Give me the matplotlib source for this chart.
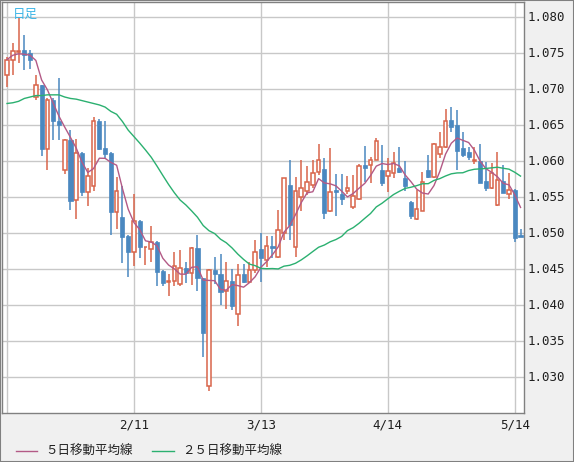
import matplotlib
matplotlib.use("Agg")
import matplotlib.pyplot as plt
import numpy as np
import pandas as pd

opens = [1.0719,1.0740,1.0752,1.0754,1.0750,1.0689,1.0705,1.0617,1.0685,1.0655,
         1.0587,1.0629,1.0546,1.0611,1.0557,1.0566,1.0656,1.0618,1.0611,1.0529,
         1.0522,1.0496,1.0473,1.0517,1.0480,1.0478,1.0488,1.0447,1.0432,1.0434,
         1.0429,1.0451,1.0445,1.0479,1.0437,1.0287,1.0449,1.0443,1.0419,1.0433,
         1.0388,1.0443,1.0432,1.0449,1.0478,1.0462,1.0482,1.0467,1.0500,1.0567,
         1.0481,1.0550,1.0559,1.0567,1.0585,1.0589,1.0530,1.0560,1.0554,1.0558,
         1.0536,1.0548,1.0595,1.0595,1.0602,1.0588,1.0579,1.0584,1.0591,1.0577,
         1.0543,1.0520,1.0531,1.0587,1.0578,1.0610,1.0620,1.0657,1.0650,1.0618,
         1.0612,1.0600,1.0600,1.0572,1.0562,1.0539,1.0573,1.0554,1.0560,1.0497]
highs = [1.0744,1.0764,1.0799,1.0775,1.0754,1.0719,1.0706,1.0688,1.0688,1.0715,
         1.0631,1.0643,1.0631,1.0612,1.0590,1.0661,1.0658,1.0656,1.0613,1.0578,
         1.0565,1.0497,1.0554,1.0518,1.0481,1.0510,1.0489,1.0448,1.0443,1.0473,
         1.0477,1.0460,1.0480,1.0497,1.0438,1.0450,1.0467,1.0471,1.0460,1.0450,
         1.0457,1.0457,1.0460,1.0490,1.0500,1.0496,1.0496,1.0532,1.0576,1.0601,
         1.0578,1.0601,1.0593,1.0602,1.0624,1.0604,1.0618,1.0582,1.0582,1.0579,
         1.0581,1.0596,1.0621,1.0606,1.0632,1.0622,1.0604,1.0613,1.0619,1.0600,
         1.0544,1.0560,1.0585,1.0608,1.0625,1.0641,1.0673,1.0675,1.0671,1.0641,
         1.0620,1.0620,1.0624,1.0599,1.0597,1.0613,1.0594,1.0583,1.0561,1.0505]
lows = [1.0703,1.0719,1.0736,1.0726,1.0728,1.0685,1.0607,1.0588,1.0629,1.0629,
        1.0582,1.0532,1.0520,1.0551,1.0538,1.0559,1.0615,1.0603,1.0497,1.0506,
        1.0459,1.0439,1.0454,1.0465,1.0455,1.0460,1.0426,1.0426,1.0413,1.0426,
        1.0426,1.0430,1.0428,1.0420,1.0328,1.0280,1.0429,1.0400,1.0395,1.0393,
        1.0371,1.0430,1.0430,1.0444,1.0432,1.0453,1.0465,1.0465,1.0491,1.0491,
        1.0467,1.0531,1.0553,1.0562,1.0581,1.0520,1.0529,1.0524,1.0539,1.0554,
        1.0534,1.0546,1.0571,1.0569,1.0601,1.0565,1.0557,1.0576,1.0583,1.0559,
        1.0520,1.0518,1.0530,1.0577,1.0576,1.0604,1.0618,1.0641,1.0587,1.0605,
        1.0602,1.0596,1.0569,1.0559,1.0561,1.0538,1.0556,1.0547,1.0487,1.0494]
closes = [1.0741,1.0753,1.0753,1.0747,1.0741,1.0705,1.0617,1.0685,1.0655,1.0650,
          1.0629,1.0545,1.0611,1.0557,1.0579,1.0656,1.0617,1.0610,1.0529,1.0559,
          1.0495,1.0473,1.0517,1.0480,1.0481,1.0487,1.0446,1.0431,1.0433,1.0454,
          1.0451,1.0445,1.0479,1.0437,1.0361,1.0449,1.0443,1.0418,1.0433,1.0399,
          1.0442,1.0432,1.0449,1.0474,1.0465,1.0482,1.0479,1.0504,1.0576,1.0511,
          1.0558,1.0563,1.0571,1.0584,1.0602,1.0528,1.0557,1.0557,1.0547,1.0562,
          1.0552,1.0593,1.0591,1.0601,1.0628,1.0570,1.0586,1.0598,1.0585,1.0565,
          1.0523,1.0534,1.0571,1.0578,1.0624,1.0620,1.0655,1.0647,1.0614,1.0608,
          1.0605,1.0602,1.0570,1.0562,1.0583,1.0574,1.0556,1.0560,1.0493,1.0495]
# 25-day MA for the first 24 days (needs earlier data)
ma25_early = [1.0680,1.0681,1.0683,1.0687,1.0689,1.0691,1.0691,1.0692,1.0692,1.0692,
              1.0689,1.0687,1.0686,1.0684,1.0682,1.0680,1.0678,1.0675,1.0669,1.0665,
              1.0655,1.0643,1.0634,1.0625]
tick_idx = [22, 44, 66, 88]
tick_labels = ["2/11", "3/13", "4/14", "5/14"]
yticks = [1.030, 1.035, 1.040, 1.045, 1.050, 1.055, 1.060, 1.065, 1.070, 1.075, 1.080]

W, H = 574, 462
fig = plt.figure(figsize=(W/100, H/100), dpi=100, facecolor="#f0f0f0")
ax = fig.add_axes([2/W, 1-413/H, 522/W, 411/H], facecolor="white")

n = len(closes)
x = np.arange(n)
o = np.array(opens); h = np.array(highs); l = np.array(lows); c = np.array(closes)
s = pd.Series(closes)
ma5 = s.rolling(5, min_periods=1).mean().values
ma25 = s.rolling(25).mean().values
ma25[:len(ma25_early)] = ma25_early

RED = "#d8644a"; BLUE = "#4a88c0"
up = c >= o
for i in range(n):
    col = RED if up[i] else BLUE
    ax.vlines(x[i], l[i], h[i], color=col, lw=1.1, zorder=3)
bot = np.minimum(o, c); hgt = np.maximum(np.abs(c - o), 0.00008)
ax.bar(x[up], hgt[up], bottom=bot[up], width=0.62, facecolor="white",
       edgecolor=RED, linewidth=1.1, zorder=4)
ax.bar(x[~up], hgt[~up], bottom=bot[~up], width=0.72, facecolor=BLUE,
       edgecolor=BLUE, linewidth=0.5, zorder=4)
ax.plot(x, ma5, color="#b35a86", lw=1.0, zorder=5)
ax.plot(x, ma25, color="#2bb070", lw=1.0, zorder=5)

ax.set_xlim(-0.87, 89.6)
ax.set_ylim(1.0250, 1.0821)
for v in yticks:
    ax.axhline(v, color="#c8c8c8", lw=1, zorder=1)
for t in [0] + tick_idx:
    ax.axvline(t, color="#c8c8c8", lw=1, zorder=1)
ax.set_xticks([]); ax.set_yticks([])
for sp in ax.spines.values():
    sp.set_color("#808080"); sp.set_linewidth(1)

for v in yticks:
    yp = 1 - 413/H + (v - 1.0250) / (1.0821 - 1.0250) * 411/H
    fig.text(528/W, yp, f"{v:.3f}", fontsize=9, family="DejaVu Sans Mono",
             va="center", ha="left", color="#202020")
for t, lab in zip(tick_idx, tick_labels):
    xp = (2 + (t + 0.87) / (89.6 + 0.87) * 522) / W
    fig.text(xp, 1 - 425/H, lab, fontsize=9, family="DejaVu Sans Mono",
             ha="center", va="center", color="#202020")

ax.text(0.02, 0.985, "日足", transform=ax.transAxes, fontsize=9,
        family=["Noto Sans CJK JP"], color="#3ab4e6", va="top", ha="left")

fam = ["Noto Sans CJK JP", "DejaVu Sans"]
fig.add_artist(plt.Line2D([16/W, 37/W], [1-451/H]*2, color="#b35a86", lw=1))
fig.text(45/W, 1-451/H, "５日移動平均線", fontsize=9, family=fam, va="center", color="#202020")
fig.add_artist(plt.Line2D([152/W, 174/W], [1-451/H]*2, color="#2bb070", lw=1))
fig.text(182/W, 1-451/H, "２５日移動平均線", fontsize=9, family=fam, va="center", color="#202020")
fig.add_artist(plt.Rectangle((0, 0), 1, 1, transform=fig.transFigure, fill=False,
                             edgecolor="#808080", lw=1.5))
fig.savefig("out.png", dpi=100, facecolor=fig.get_facecolor())
